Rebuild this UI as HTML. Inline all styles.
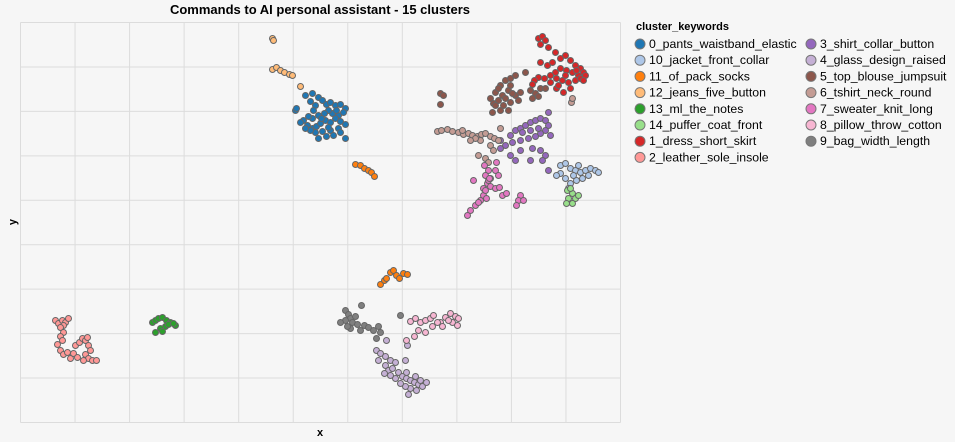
<!DOCTYPE html>
<html><head><meta charset="utf-8"><style>
html,body{margin:0;padding:0;background:#f6f6f6;width:955px;height:442px;overflow:hidden}
svg{font-family:"Liberation Sans",Arial,sans-serif}
</style></head><body>
<svg id="chart" width="955" height="442">
<rect width="955" height="442" fill="#f6f6f6"/>
<g id="grid"></g>
<g id="points"></g>
<text x="320" y="14" text-anchor="middle" font-size="13" font-weight="bold" fill="#000">Commands to AI personal assistant - 15 clusters</text>
<text x="320" y="436" text-anchor="middle" font-size="11" font-weight="bold">x</text>
<text transform="translate(16,222) rotate(-90)" text-anchor="middle" font-size="11" font-weight="bold">y</text>
<g id="legend">
<text x="636" y="30" font-size="11" font-weight="bold">cluster_keywords</text>
</g>
</svg>
<script>
const xDomain=[20,620], yDomain=[22,422];
const categories=["0_pants_waistband_elastic","10_jacket_front_collar","11_of_pack_socks","12_jeans_five_button","13_ml_the_notes","14_puffer_coat_front","1_dress_short_skirt","2_leather_sole_insole","3_shirt_collar_button","4_glass_design_raised","5_top_blouse_jumpsuit","6_tshirt_neck_round","7_sweater_knit_long","8_pillow_throw_cotton","9_bag_width_length"];
const colors=["#1f77b4","#aec7e8","#ff7f0e","#ffbb78","#2ca02c","#98df8a","#d62728","#ff9896","#9467bd","#c5b0d5","#8c564b","#c49c94","#e377c2","#f7b6d2","#7f7f7f"];
const xTicks=[0,1,2,3,4,5,6,7,8,9,10,11];
const yTicks=[0,1,2,3,4,5,6,7,8,9];
const c0=[[295,110],[296,108],[305,95],[312,93],[318,97],[322,100],[326,104],[330,102],[335,105],[340,104],[345,108],[343,112],[338,115],[332,113],[328,110],[324,113],[318,115],[312,118],[308,116],[303,120],[307,125],[312,128],[316,126],[320,123],[325,120],[330,122],[335,118],[340,121],[345,124],[338,128],[330,130],[322,131],[315,132],[310,130],[305,128],[326,136],[318,138],[333,135],[345,138],[340,132],[310,101],[315,105],[300,122],[328,127],[321,118],[313,110],[336,110]];
const c10=[[560,165],[565,163],[570,168],[575,170],[580,172],[585,170],[590,168],[595,170],[598,172],[588,175],[582,178],[576,180],[570,183],[565,178],[560,173],[573,175],[568,188],[556,175],[578,165]];
const c11=[[355,164],[360,165],[364,168],[368,170],[371,172],[374,176],[380,284],[384,280],[390,272],[393,270],[396,275],[399,278],[403,273],[407,274],[386,278]];
const c12=[[272,38],[273,40],[272,69],[276,67],[280,70],[284,72],[289,74],[292,75],[300,86]];
const c13=[[152,322],[155,320],[158,318],[162,317],[166,320],[170,322],[175,325],[165,326],[160,328],[155,332],[162,331],[168,324],[173,323]];
const c14=[[567,190],[572,193],[568,198],[575,198],[572,203],[566,203],[578,195],[570,188]];
const c1=[[538,38],[542,36],[545,40],[540,44],[548,47],[555,52],[560,58],[565,55],[570,60],[575,65],[580,68],[583,72],[578,75],[572,72],[566,70],[560,68],[555,72],[550,75],[556,78],[562,80],[568,82],[575,80],[580,78],[570,88],[563,92],[556,88],[550,82],[544,78],[538,77],[534,80],[532,84],[547,65],[552,62],[585,75],[576,70],[540,62],[565,75],[558,85],[583,80]];
const c2=[[55,320],[58,323],[62,320],[65,322],[63,325],[60,327],[68,318],[63,332],[60,336],[62,340],[57,344],[60,350],[63,354],[67,352],[70,358],[73,353],[75,345],[79,342],[82,338],[85,340],[88,345],[90,350],[85,354],[88,358],[92,360],[96,360],[83,360],[77,357],[87,337]];
const c3=[[510,135],[515,130],[520,128],[525,125],[530,122],[535,120],[540,118],[545,120],[548,125],[545,130],[540,133],[535,136],[528,138],[520,140],[512,142],[505,145],[500,140],[522,132],[530,130],[538,128],[550,135],[540,150],[545,155],[542,160],[532,148],[530,160],[520,150],[515,160],[500,148],[510,155],[548,112],[548,170]];
const c4=[[376,350],[380,353],[385,356],[390,360],[395,362],[385,365],[388,370],[392,368],[398,372],[402,376],[406,378],[410,380],[414,382],[418,384],[422,386],[416,390],[410,388],[405,386],[400,383],[395,378],[390,375],[384,373],[406,372],[415,376],[405,360],[407,345],[386,340],[378,360],[420,380],[408,394],[426,382]];
const c5=[[500,85],[505,80],[510,78],[515,75],[508,90],[502,95],[495,92],[490,98],[493,103],[498,100],[505,98],[510,102],[515,95],[520,92],[518,100],[508,110],[500,110],[495,105],[525,72],[530,90],[535,93],[540,88],[545,88],[538,96],[532,98],[440,93],[443,95],[440,104],[510,85],[498,88],[503,105],[492,112],[512,93]];
const c6=[[437,131],[441,130],[447,129],[452,131],[458,132],[463,134],[468,133],[472,135],[477,136],[481,134],[485,133],[490,136],[494,138],[498,140],[480,140],[475,138],[470,140],[490,145],[493,150],[478,155],[485,158],[488,162],[571,102],[572,98],[500,128],[462,130]];
const c7=[[484,165],[488,170],[485,175],[490,178],[487,183],[483,188],[490,186],[495,170],[498,175],[483,195],[486,198],[485,190],[495,188],[473,180],[499,187],[502,195],[506,193],[520,195],[518,200],[516,205],[523,200],[488,180],[480,200],[470,210],[467,215],[475,205],[478,202],[496,162],[489,178]];
const c8=[[410,321],[415,318],[420,322],[425,320],[430,318],[433,315],[440,322],[445,317],[450,313],[455,316],[458,318],[442,326],[432,326],[425,332],[418,330],[414,336],[406,340],[437,322],[452,322],[457,325],[448,320]];
const c9=[[345,310],[348,314],[350,318],[352,322],[345,320],[340,322],[355,316],[357,324],[350,328],[360,330],[364,325],[368,327],[373,330],[378,326],[361,305],[400,315],[380,332],[376,338],[347,326]];
const series=[c0,c10,c11,c12,c13,c14,c1,c2,c3,c4,c5,c6,c7,c8,c9];

const X0=20.5,X1=620.5,Y0=22.5,Y1=422.5;
function xs(v){return X0+(v-xDomain[0])/(xDomain[1]-xDomain[0])*(X1-X0);}
function ys(v){return Y0+(v-yDomain[0])/(yDomain[1]-yDomain[0])*(Y1-Y0);}
const NS="http://www.w3.org/2000/svg";
const grid=document.getElementById('grid');
xTicks.forEach(t=>{
  const l=document.createElementNS(NS,'line');
  const x=X0+t*(X1-X0)/(xTicks.length-1);
  l.setAttribute('x1',x);l.setAttribute('x2',x);l.setAttribute('y1',Y0);l.setAttribute('y2',Y1);
  l.setAttribute('stroke','#dcdcdc');
  
  
  grid.appendChild(l);
});
yTicks.forEach(t=>{
  const l=document.createElementNS(NS,'line');
  const y=Y0+t*(Y1-Y0)/(yTicks.length-1);
  l.setAttribute('x1',X0);l.setAttribute('x2',X1);l.setAttribute('y1',y);l.setAttribute('y2',y);
  l.setAttribute('stroke','#dcdcdc');
  
  
  grid.appendChild(l);
});
const pts=document.getElementById('points');
series.forEach((s,i)=>{
  s.forEach(p=>{
    const c=document.createElementNS(NS,'circle');
    c.setAttribute('cx',xs(p[0]));c.setAttribute('cy',ys(p[1]));c.setAttribute('r',3);
    c.setAttribute('fill',colors[i]);c.setAttribute('stroke','#666');c.setAttribute('stroke-width','1');
    
    
    pts.appendChild(c);
  });
});
const leg=document.getElementById('legend');
categories.forEach((cat,i)=>{
  const col=i<8?0:1, row=i<8?i:i-8;
  const x=col?811:640, y=44+row*16.2;
  const c=document.createElementNS(NS,'circle');
  c.setAttribute('cx',x);c.setAttribute('cy',y);c.setAttribute('r',5);
  c.setAttribute('fill',colors[i]);c.setAttribute('stroke','#777');c.setAttribute('stroke-width','1');
  
  
  leg.appendChild(c);
  const t=document.createElementNS(NS,'text');
  t.setAttribute('x',x+9);t.setAttribute('y',y+4);t.setAttribute('font-size','12.3');
  t.textContent=cat;
  
  
  leg.appendChild(t);
});
</script>
</body></html>
